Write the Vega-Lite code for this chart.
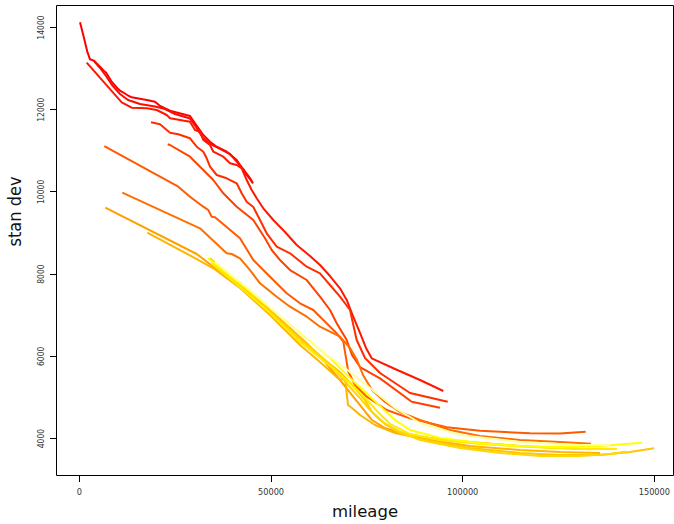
{
"$schema": "https://vega.github.io/schema/vega-lite/v6.json",
"width": 617, "height": 470,
"autosize": {"type": "none"},
"padding": {"left": 56, "top": 5, "right": 1, "bottom": 49},
"background": "white",
"config": {"view": {"stroke": "black", "strokeWidth": 1}},
"data": {"values": [
{"s":"s01","x":290,"y":14114},{"s":"s01","x":1330,"y":13732},{"s":"s01","x":2192,"y":13399},{"s":"s01","x":2896,"y":13214},{"s":"s01","x":3940,"y":13180},{"s":"s01","x":5505,"y":13034},{"s":"s01","x":6549,"y":12929},{"s":"s01","x":7071,"y":12893},{"s":"s01","x":8558,"y":12669},{"s":"s01","x":10201,"y":12496},{"s":"s01","x":10723,"y":12450},{"s":"s01","x":12628,"y":12345},{"s":"s01","x":13775,"y":12289},{"s":"s01","x":17689,"y":12224},{"s":"s01","x":19854,"y":12182},{"s":"s01","x":21159,"y":12078},{"s":"s01","x":23768,"y":11964},{"s":"s01","x":28986,"y":11834},{"s":"s01","x":30291,"y":11657},{"s":"s01","x":32456,"y":11372},{"s":"s01","x":34204,"y":11209},{"s":"s01","x":35952,"y":11087},{"s":"s01","x":38561,"y":10966},{"s":"s01","x":41170,"y":10764},{"s":"s01","x":42031,"y":10642},{"s":"s01","x":43779,"y":10399},{"s":"s01","x":45345,"y":10211},
{"s":"s02","x":3940,"y":13172},{"s":"s02","x":5505,"y":13002},{"s":"s02","x":7071,"y":12808},{"s":"s02","x":8636,"y":12589},{"s":"s02","x":10723,"y":12370},{"s":"s02","x":12810,"y":12224},{"s":"s02","x":15941,"y":12127},{"s":"s02","x":19854,"y":12066},{"s":"s02","x":22463,"y":12005},{"s":"s02","x":25072,"y":11883},{"s":"s02","x":28986,"y":11774},{"s":"s02","x":30552,"y":11567},{"s":"s02","x":32378,"y":11300},{"s":"s02","x":34204,"y":11154},{"s":"s02","x":36813,"y":11032},{"s":"s02","x":39422,"y":10910},{"s":"s02","x":41510,"y":10691},{"s":"s02","x":43075,"y":10521},{"s":"s02","x":44640,"y":10326},{"s":"s02","x":45423,"y":10192},
{"s":"s03","x":2035,"y":13131},{"s":"s03","x":11166,"y":12168},{"s":"s03","x":13775,"y":12036},{"s":"s03","x":17689,"y":12022},{"s":"s03","x":20298,"y":11980},{"s":"s03","x":22907,"y":11859},{"s":"s03","x":23768,"y":11778},{"s":"s03","x":28986,"y":11696},{"s":"s03","x":30291,"y":11494},{"s":"s03","x":31595,"y":11452},{"s":"s03","x":32456,"y":11251},{"s":"s03","x":34204,"y":11129},{"s":"s03","x":35065,"y":10966},{"s":"s03","x":37674,"y":10844},{"s":"s03","x":39422,"y":10684},{"s":"s03","x":41170,"y":10642},{"s":"s03","x":42475,"y":10562},{"s":"s03","x":43779,"y":10277},{"s":"s03","x":45084,"y":10034},{"s":"s03","x":46388,"y":9832},{"s":"s03","x":48110,"y":9589},{"s":"s03","x":50719,"y":9304},{"s":"s03","x":53772,"y":9012},{"s":"s03","x":56824,"y":8696},{"s":"s03","x":60294,"y":8428},{"s":"s03","x":62903,"y":8209},{"s":"s03","x":65512,"y":7941},{"s":"s03","x":68121,"y":7642},{"s":"s03","x":69869,"y":7358},{"s":"s03","x":71513,"y":6968},{"s":"s03","x":73339,"y":6555},{"s":"s03","x":74904,"y":6190},{"s":"s03","x":76392,"y":5939},{"s":"s03","x":82471,"y":5679},{"s":"s03","x":88994,"y":5411},{"s":"s03","x":95073,"y":5144},
{"s":"s04","x":18811,"y":11681},{"s":"s04","x":21159,"y":11632},{"s":"s04","x":23768,"y":11428},{"s":"s04","x":25934,"y":11389},{"s":"s04","x":28986,"y":11292},{"s":"s04","x":30734,"y":11087},{"s":"s04","x":32456,"y":10966},{"s":"s04","x":33343,"y":10805},{"s":"s04","x":34204,"y":10601},{"s":"s04","x":35952,"y":10399},{"s":"s04","x":38561,"y":10319},{"s":"s04","x":41170,"y":10197},{"s":"s04","x":42475,"y":9954},{"s":"s04","x":43779,"y":9749},{"s":"s04","x":45501,"y":9620},{"s":"s04","x":47249,"y":9304},{"s":"s04","x":48997,"y":8980},{"s":"s04","x":51606,"y":8654},{"s":"s04","x":55080,"y":8494},{"s":"s04","x":59437,"y":8168},{"s":"s04","x":62903,"y":8007},{"s":"s04","x":65512,"y":7723},{"s":"s04","x":68121,"y":7438},{"s":"s04","x":70730,"y":7114},{"s":"s04","x":72478,"y":6384},{"s":"s04","x":74644,"y":5946},{"s":"s04","x":78557,"y":5581},{"s":"s04","x":86385,"y":5095},{"s":"s04","x":96221,"y":4883},
{"s":"s05","x":23168,"y":11146},{"s":"s05","x":23768,"y":11129},{"s":"s05","x":28986,"y":10844},{"s":"s05","x":32456,"y":10520},{"s":"s05","x":35065,"y":10277},{"s":"s05","x":37674,"y":9954},{"s":"s05","x":41170,"y":9628},{"s":"s05","x":45501,"y":9304},{"s":"s05","x":48553,"y":8859},{"s":"s05","x":50301,"y":8574},{"s":"s05","x":52466,"y":8331},{"s":"s05","x":55080,"y":8087},{"s":"s05","x":59437,"y":7844},{"s":"s05","x":62903,"y":7438},{"s":"s05","x":65512,"y":7114},{"s":"s05","x":67260,"y":6791},{"s":"s05","x":69869,"y":6384},{"s":"s05","x":71252,"y":6019},{"s":"s05","x":73339,"y":5727},{"s":"s05","x":78557,"y":5452},{"s":"s05","x":86828,"y":4883},{"s":"s05","x":94212,"y":4737},
{"s":"s06","x":6627,"y":11104},{"s":"s06","x":25934,"y":10114},{"s":"s06","x":28986,"y":9871},{"s":"s06","x":32456,"y":9628},{"s":"s06","x":33760,"y":9547},{"s":"s06","x":34648,"y":9384},{"s":"s06","x":35509,"y":9370},{"s":"s06","x":42031,"y":8859},{"s":"s06","x":45501,"y":8331},{"s":"s06","x":48110,"y":8087},{"s":"s06","x":50719,"y":7844},{"s":"s06","x":54215,"y":7521},{"s":"s06","x":57685,"y":7277},{"s":"s06","x":61155,"y":7114},{"s":"s06","x":63764,"y":6871},{"s":"s06","x":67260,"y":6547},{"s":"s06","x":68982,"y":6343},{"s":"s06","x":70286,"y":5613},{"s":"s06","x":72035,"y":5290},{"s":"s06","x":75087,"y":5005},{"s":"s06","x":80306,"y":4681},{"s":"s06","x":86385,"y":4479},{"s":"s06","x":95960,"y":4260},{"s":"s06","x":104648,"y":4178},{"s":"s06","x":117693,"y":4114},{"s":"s06","x":125520,"y":4109},{"s":"s06","x":132225,"y":4153},
{"s":"s07","x":11323,"y":9968},{"s":"s07","x":31595,"y":9102},{"s":"s07","x":38561,"y":8494},{"s":"s07","x":39866,"y":8477},{"s":"s07","x":42031,"y":8372},{"s":"s07","x":44640,"y":8087},{"s":"s07","x":47249,"y":7764},{"s":"s07","x":51606,"y":7438},{"s":"s07","x":55080,"y":7195},{"s":"s07","x":59437,"y":6951},{"s":"s07","x":62903,"y":6708},{"s":"s07","x":68121,"y":6465},{"s":"s07","x":70730,"y":6190},{"s":"s07","x":72556,"y":5898},{"s":"s07","x":74122,"y":5533},{"s":"s07","x":76470,"y":5168},{"s":"s07","x":79862,"y":4876},{"s":"s07","x":83775,"y":4633},{"s":"s07","x":88994,"y":4438},{"s":"s07","x":96821,"y":4195},{"s":"s07","x":104648,"y":4049},{"s":"s07","x":115085,"y":3951},{"s":"s07","x":125520,"y":3903},{"s":"s07","x":133608,"y":3861},
{"s":"s08","x":6888,"y":9603},{"s":"s08","x":30734,"y":8477},{"s":"s08","x":35065,"y":8168},{"s":"s08","x":43779,"y":7601},{"s":"s08","x":50719,"y":7034},{"s":"s08","x":59433,"y":6304},{"s":"s08","x":64208,"y":5849},{"s":"s08","x":68121,"y":5411},{"s":"s08","x":71252,"y":5046},{"s":"s08","x":73339,"y":4803},{"s":"s08","x":76470,"y":4438},{"s":"s08","x":79862,"y":4243},{"s":"s08","x":83775,"y":4122},{"s":"s08","x":91602,"y":4000},{"s":"s08","x":102038,"y":3903},{"s":"s08","x":115083,"y":3805},{"s":"s08","x":125519,"y":3757},{"s":"s08","x":133607,"y":3725},
{"s":"s09","x":17846,"y":8995},{"s":"s09","x":30734,"y":8355},{"s":"s09","x":35065,"y":8129},{"s":"s09","x":42031,"y":7650},{"s":"s09","x":49858,"y":6993},{"s":"s09","x":57685,"y":6263},{"s":"s09","x":62903,"y":5849},{"s":"s09","x":68121,"y":5411},{"s":"s09","x":69425,"y":5460},{"s":"s09","x":70208,"y":4803},{"s":"s09","x":71252,"y":4730},{"s":"s09","x":73339,"y":4560},{"s":"s09","x":77252,"y":4316},{"s":"s09","x":82470,"y":4122},{"s":"s09","x":91602,"y":3951},{"s":"s09","x":102038,"y":3805},{"s":"s09","x":115083,"y":3708},{"s":"s09","x":125519,"y":3659},{"s":"s09","x":135955,"y":3635},
{"s":"s10","x":34726,"y":8282},{"s":"s10","x":42031,"y":7722},{"s":"s10","x":49858,"y":7090},{"s":"s10","x":57685,"y":6433},{"s":"s10","x":64208,"y":5898},{"s":"s10","x":68121,"y":5606},{"s":"s10","x":72034,"y":5217},{"s":"s10","x":74643,"y":4925},{"s":"s10","x":76470,"y":4633},{"s":"s10","x":79862,"y":4341},{"s":"s10","x":83775,"y":4146},{"s":"s10","x":91602,"y":3927},{"s":"s10","x":102038,"y":3757},{"s":"s10","x":115083,"y":3635},{"s":"s10","x":125519,"y":3586},{"s":"s10","x":135955,"y":3586},{"s":"s10","x":143782,"y":3659},{"s":"s10","x":150044,"y":3749},
{"s":"s11","x":34204,"y":8379},{"s":"s11","x":42031,"y":7698},{"s":"s11","x":49858,"y":7066},{"s":"s11","x":57685,"y":6384},{"s":"s11","x":62903,"y":5995},{"s":"s11","x":66816,"y":5654},{"s":"s11","x":70208,"y":5290},{"s":"s11","x":73339,"y":4973},{"s":"s11","x":75948,"y":4681},{"s":"s11","x":78557,"y":4438},{"s":"s11","x":82470,"y":4195},{"s":"s11","x":88993,"y":3951},{"s":"s11","x":99429,"y":3757},{"s":"s11","x":109865,"y":3635},{"s":"s11","x":120301,"y":3562},{"s":"s11","x":130737,"y":3562},{"s":"s11","x":138564,"y":3611},{"s":"s11","x":142738,"y":3667},
{"s":"s12","x":34465,"y":8258},{"s":"s12","x":42031,"y":7674},{"s":"s12","x":49858,"y":7041},{"s":"s12","x":57685,"y":6336},{"s":"s12","x":65512,"y":5752},{"s":"s12","x":70730,"y":5338},{"s":"s12","x":74643,"y":4973},{"s":"s12","x":78035,"y":4633},{"s":"s12","x":81166,"y":4341},{"s":"s12","x":86384,"y":4097},{"s":"s12","x":94211,"y":3951},{"s":"s12","x":104647,"y":3854},{"s":"s12","x":117692,"y":3781},{"s":"s12","x":130737,"y":3732},{"s":"s12","x":140390,"y":3732},
{"s":"s13","x":33604,"y":8372},{"s":"s13","x":42031,"y":7764},{"s":"s13","x":49858,"y":7163},{"s":"s13","x":57685,"y":6555},{"s":"s13","x":65512,"y":5946},{"s":"s13","x":70730,"y":5460},{"s":"s13","x":74643,"y":5119},{"s":"s13","x":78557,"y":4779},{"s":"s13","x":82470,"y":4438},{"s":"s13","x":86384,"y":4195},{"s":"s13","x":94211,"y":4000},{"s":"s13","x":104647,"y":3878},{"s":"s13","x":115083,"y":3805},{"s":"s13","x":125519,"y":3781},{"s":"s13","x":135955,"y":3805},{"s":"s13","x":146835,"y":3886},
{"s":"s14","x":35508,"y":8282},{"s":"s14","x":44640,"y":7601},{"s":"s14","x":55075,"y":6749},{"s":"s14","x":62903,"y":6141},{"s":"s14","x":69425,"y":5703},{"s":"s14","x":75948,"y":5217},{"s":"s14","x":82470,"y":4730},{"s":"s14","x":88993,"y":4365},{"s":"s14","x":99429,"y":4073},{"s":"s14","x":115083,"y":3903},{"s":"s14","x":130737,"y":3830},{"s":"s14","x":138564,"y":3830}
]},
"mark": {"type": "line", "strokeWidth": 2, "strokeJoin": "round", "clip": true},
"encoding": {
"x": {"field": "x", "type": "quantitative",
 "scale": {"domain": [-5975, 155000], "nice": false, "zero": false},
 "axis": {"values": [0, 50000, 100000, 150000], "format": "d", "title": "mileage",
  "grid": false, "domain": false, "ticks": true, "tickColor": "black", "tickSize": 6.5, "tickWidth": 1,
  "labelFont": "DejaVu Sans", "labelFontSize": 8.2, "labelColor": "#333", "labelBaseline": "middle", "labelPadding": 11,
  "labelFlush": false, "labelOverlap": false,
  "titleFont": "DejaVu Sans", "titleFontSize": 16.5, "titleFontWeight": "normal", "titleColor": "#111",
  "titleBaseline": "alphabetic", "titleY": 41, "titleX": 308.5, "titleAlign": "center"}},
"y": {"field": "y", "type": "quantitative",
 "scale": {"domain": [3100, 14535], "nice": false, "zero": false},
 "axis": {"values": [4000, 6000, 8000, 10000, 12000, 14000], "format": "d", "title": "stan dev",
  "grid": false, "domain": false, "ticks": true, "tickColor": "black", "tickSize": 6.5, "tickWidth": 1,
  "labelFont": "Liberation Sans Narrow, DejaVu Sans Condensed, Liberation Sans", "labelFontSize": 8.5, "labelColor": "#333",
  "labelAngle": 270, "labelAlign": "center", "labelBaseline": "middle", "labelPadding": 9,
  "labelFlush": false, "labelOverlap": false,
  "titleFont": "Liberation Sans Narrow, DejaVu Sans Condensed, Liberation Sans", "titleFontSize": 18, "titleFontWeight": "normal", "titleColor": "#111",
  "titleAngle": 270, "titleAlign": "center", "titleBaseline": "middle", "titleX": -41, "titleY": 206}},
"color": {"field": "s", "type": "nominal", "legend": null,
 "scale": {"domain": ["s01","s02","s03","s04","s05","s06","s07","s08","s09","s10","s11","s12","s13","s14"],
  "range": ["#FF0000","#FF0A00","#FF1800","#FF2E00","#FF4200","#FF5A00","#FF6E00","#FFA000","#FFB400","#FFC600","#FFD700","#FFEA00","#FFFF00","#FFFF9E"]}}
}
}
